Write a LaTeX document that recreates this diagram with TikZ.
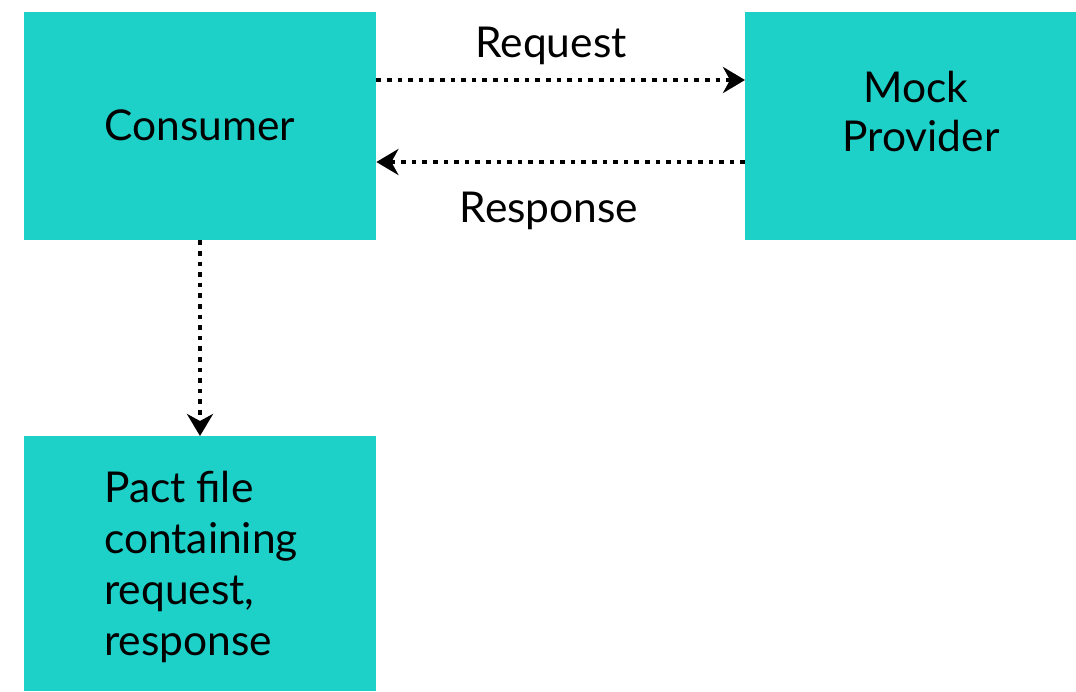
\documentclass[tikz,border=0pt]{standalone}
\usepackage{fontspec}
\setmainfont{Lato}
\usetikzlibrary{arrows.meta}
\definecolor{boxteal}{RGB}{29,208,200}
\tikzset{
  box/.style={fill=boxteal, draw=none, inner sep=0pt, anchor=north west},
  txt/.style={font=\fontsize{42.5}{51}\selectfont, inner sep=0pt, text=black},
  flow/.style={line width=4.6pt, dash pattern=on 4.6pt off 6pt,
    -{Stealth[length=22pt, width=26pt, inset=7pt]}}
}
\begin{document}
\begin{tikzpicture}[x=1pt, y=-1pt]
\useasboundingbox (0,0) rectangle (1076,691);
% boxes
\node[box, minimum width=352pt, minimum height=228pt] (consumer) at (24,12) {};
\node[box, minimum width=331pt, minimum height=228pt] (mock) at (745,12) {};
\node[box, minimum width=352pt, minimum height=255pt] (pact) at (24,436) {};
% box texts
\node[txt, anchor=base] (tconsumer) at (200,140) {Consumer};
\node[txt, anchor=base] (tmock) at (916,102) {Mock};
\node[txt, anchor=base] (tprovider) at (921,151) {Provider};
% multi-line node: base anchor sits on the last line
\node[txt, anchor=base west, align=left] (tpact) at (104,655)
  {Pact file\\containing\\request,\\response};
% connector labels
\node[txt, anchor=base] (lreq) at (551,57) {Request};
\node[txt, anchor=base] (lresp) at (549,222) {Response};
% connectors
\coordinate (reqA) at (consumer.north east |- 0,80);
\coordinate (reqB) at (mock.north west |- 0,80);
\coordinate (respA) at (mock.north west |- 0,162);
\coordinate (respB) at (consumer.north east |- 0,162);
\draw[flow] (reqA) -- (reqB);
\draw[flow] (respA) -- (respB);
\draw[flow] (consumer.south -| 200,0) -- (pact.north -| 200,0);
\end{tikzpicture}
\end{document}
